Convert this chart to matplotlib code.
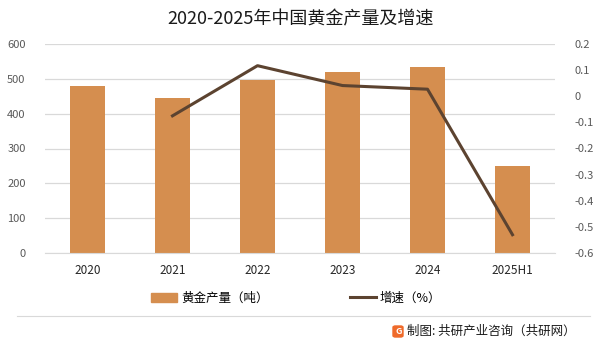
import matplotlib
matplotlib.use("Agg")
import matplotlib.pyplot as plt
from matplotlib.lines import Line2D
from matplotlib.patches import Patch, FancyBboxPatch

plt.rcParams['font.family'] = ['Noto Sans CJK SC', 'DejaVu Sans']

# data
years = ["2020", "2021", "2022", "2023", "2024", "2025H1"]
output = [479.5, 443.6, 495.6, 519.8, 533.0, 250.5]
growth_years = ["2021", "2022", "2023", "2024", "2025H1"]
growth = [-0.075, 0.117, 0.041, 0.027, -0.53]

bar_color = "#D58E4F"
line_color = "#5C4330"
grid_color = "#D9D9D9"
tick_color = "#595959"

fig = plt.figure(figsize=(6.02, 3.46), dpi=100)
ax = fig.add_axes([45 / 602, 93 / 346, 510 / 602, 209 / 346])
ax2 = ax.twinx()

x = list(range(len(years)))
ax.bar(x, output, width=0.41, color=bar_color, zorder=2)
ax.set_ylim(0, 600)
ax.set_yticks(range(0, 601, 100))
ax.set_xlim(-0.5, len(years) - 0.5)
ax.set_xticks(x)
ax.set_xticklabels(years)
ax.grid(axis="y", color=grid_color, linewidth=0.9, zorder=0)
ax.set_axisbelow(True)

gx = [years.index(y) for y in growth_years]
ax2.plot(gx, growth, color=line_color, linewidth=2.2, zorder=3)
ax2.set_ylim(-0.6, 0.2)
ax2.set_yticks([0.2, 0.1, 0, -0.1, -0.2, -0.3, -0.4, -0.5, -0.6])
ax2.set_yticklabels(["0.2", "0.1", "0", "-0.1", "-0.2", "-0.3", "-0.4", "-0.5", "-0.6"])

for a in (ax, ax2):
    for s in a.spines.values():
        s.set_visible(False)
    a.tick_params(length=0, labelsize=8, colors=tick_color)
ax.tick_params(axis="y", pad=14)
ax.tick_params(axis="x", pad=8, colors="#262626", labelsize=8.5)
ax2.tick_params(axis="y", pad=14)
ax.spines["bottom"].set_visible(True)
ax.spines["bottom"].set_color(grid_color)

fig.text(0.5, 1 - 19 / 346, "2020-2025年中国黄金产量及增速", ha="center", va="center",
         fontsize=13, color="#1a1a1a")

handles = [Patch(color=bar_color), Line2D([0], [0], color=line_color, linewidth=2.2)]
labels = ["黄金产量（吨）", "增速（%）"]
fig.legend(handles, labels, loc="center", bbox_to_anchor=(296 / 602, 1 - 298 / 346), ncol=2,
           frameon=False, fontsize=9, handlelength=2.1, handleheight=0.7,
           handletextpad=0.3, columnspacing=6.5)

# separator and source note
fig.add_artist(Line2D([17 / 602, 590 / 602], [1 - 316 / 346, 1 - 316 / 346],
                      color="#D9D9D9", linewidth=0.8))
fig.add_artist(FancyBboxPatch((393 / 602, 1 - 337 / 346), 10 / 602, 11 / 346,
                              boxstyle="round,pad=0,rounding_size=0.004",
                              color="#EF6A2A", transform=fig.transFigure))
fig.text(395.5 / 602, 1 - 331.5 / 346, "G", color="white", fontsize=6.5, fontweight="bold",
         ha="left", va="center")
fig.text(407 / 602, 1 - 331 / 346, "制图: 共研产业咨询（共研网）", ha="left", va="center",
         fontsize=9, color="#1a1a1a")

fig.savefig("out.png", dpi=100)
